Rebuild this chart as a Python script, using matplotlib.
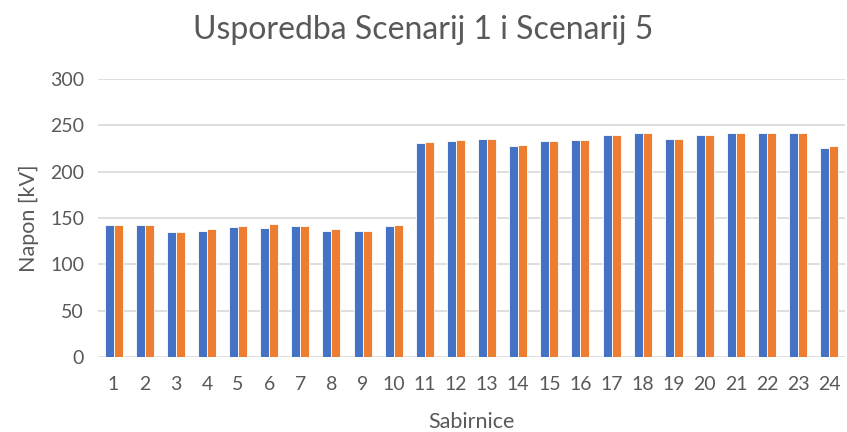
import numpy as np
import matplotlib.pyplot as plt

plt.rcParams['font.family'] = ['Lato', 'DejaVu Sans']

sabirnice = [str(i) for i in range(1, 25)]
scenarij1 = [142.6, 142.6, 134.8, 136.2, 140.2, 139.1, 141.2, 136.2, 136.2, 141.2,
             230.6, 233.0, 235.4, 227.4, 232.8, 234.3, 239.3, 241.8, 235.4, 239.3,
             241.8, 241.8, 241.8, 226.0]
scenarij5 = [142.6, 142.6, 134.8, 137.6, 141.2, 143.7, 141.2, 137.6, 136.2, 142.6,
             231.6, 234.5, 235.4, 228.9, 232.8, 234.3, 239.3, 241.8, 235.4, 239.3,
             241.8, 241.8, 241.8, 227.4]

fig = plt.figure(figsize=(8.47, 4.32), dpi=100)
ax = fig.add_axes([98 / 847, 1 - 357 / 432, 747 / 847, 278 / 432])

x = np.arange(1, 25)
w = 0.29
ax.bar(x - w / 2, scenarij1, width=w, color='#4472C4', edgecolor='white', linewidth=0.6, zorder=3)
ax.bar(x + w / 2, scenarij5, width=w, color='#ED7D31', edgecolor='white', linewidth=0.6, zorder=3)

ax.set_xlim(0.5, 24.5)
ax.set_ylim(0, 300)
ax.set_yticks(range(0, 301, 50))
ax.set_xticks(x)
ax.set_xticklabels(sabirnice)
ax.grid(axis='y', color='#d9d9d9', linewidth=1.2, zorder=0)
for s in ax.spines.values():
    s.set_visible(False)
ax.tick_params(length=0, labelsize=14, colors='#595959')
ax.tick_params(axis='x', pad=14)
ax.tick_params(axis='y', pad=10)

ax.set_xlabel('Sabirnice', fontsize=15.5, color='#595959', labelpad=13)
ax.set_ylabel('Napon [kV]', fontsize=15.5, color='#595959', labelpad=8)
fig.text(0.5, 1 - 30 / 432, 'Usporedba Scenarij 1 i Scenarij 5', ha='center', va='center',
         fontsize=23, color='#595959')

fig.savefig('out.png', dpi=100)
